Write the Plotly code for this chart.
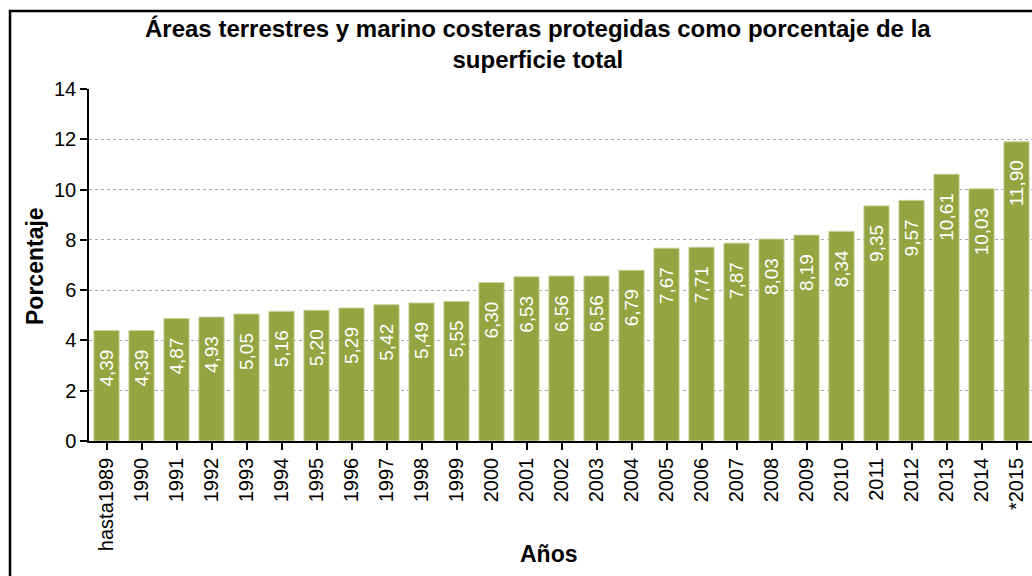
import plotly.graph_objects as go

categories = ["hasta1989", "1990", "1991", "1992", "1993", "1994", "1995", "1996", "1997",
              "1998", "1999", "2000", "2001", "2002", "2003", "2004", "2005", "2006", "2007",
              "2008", "2009", "2010", "2011", "2012", "2013", "2014", "*2015"]
values = [4.39, 4.39, 4.87, 4.93, 5.05, 5.16, 5.20, 5.29, 5.42, 5.49, 5.55, 6.30, 6.53,
          6.56, 6.56, 6.79, 7.67, 7.71, 7.87, 8.03, 8.19, 8.34, 9.35, 9.57, 10.61, 10.03, 11.90]
labels = [f"{v:.2f}".replace(".", ",") for v in values]
y_ticks = [0, 2, 4, 6, 8, 10, 12, 14]

FONT = "Liberation Sans, Arial, sans-serif"
W, H = 1032, 576
L, R, T, B = 89, 0, 89, 135
pw = W - L - R
ph = H - T - B
cat_w = 35.0


def px_x(p):
    return (p - L) / pw


def px_y(p):
    return (H - B - p) / ph


fig = go.Figure(go.Bar(
    x=list(range(len(categories))), y=values,
    marker=dict(color="#93A440", line=dict(color="#C8D39A", width=1)),
    width=0.72, cliponaxis=True, hoverinfo="x+y",
))

annotations = []
for i, (v, lab) in enumerate(zip(values, labels)):
    annotations.append(dict(
        x=i, y=v, xref="x", yref="y", text=lab, showarrow=False,
        textangle=-90, xanchor="center", yanchor="top", yshift=-18,
        font=dict(family=FONT, size=19, color="white"), borderpad=0,
    ))

# chart title
annotations.append(dict(
    x=px_x(538), y=px_y(14), xref="paper", yref="paper", xanchor="center", yanchor="top",
    text="<b>Áreas terrestres y marino costeras protegidas como porcentaje de la<br>superficie total</b>",
    showarrow=False, align="center", borderpad=0,
    font=dict(family=FONT, size=24, color="black"),
))
# y-axis title
annotations.append(dict(
    x=px_x(35), y=px_y(266), xref="paper", yref="paper", xanchor="center", yanchor="middle",
    text="<b>Porcentaje</b>", textangle=-90, showarrow=False, borderpad=0,
    font=dict(family=FONT, size=23, color="black"),
))
# x-axis title
annotations.append(dict(
    x=px_x(549), y=px_y(554), xref="paper", yref="paper", xanchor="center", yanchor="middle",
    text="<b>Años</b>", showarrow=False, borderpad=0,
    font=dict(family=FONT, size=23, color="black"),
))

fig.update_layout(
    width=W, height=H,
    margin=dict(l=L, r=R, t=T, b=B, pad=0),
    paper_bgcolor="white", plot_bgcolor="white",
    font=dict(family=FONT, color="black"),
    showlegend=False,
    annotations=annotations,
    xaxis=dict(
        range=[-0.5, -0.5 + pw / cat_w],
        tickmode="array", tickvals=list(range(len(categories))), ticktext=categories,
        tickangle=-90, tickfont=dict(size=20, family=FONT),
        ticks="outside", ticklen=7, tickwidth=1.5, tickcolor="black", tickson="boundaries",
        showline=True, linecolor="black", linewidth=1.5,
        showgrid=False, zeroline=False, automargin=False,
    ),
    yaxis=dict(
        range=[0, 14], tickvals=y_ticks,
        tickfont=dict(size=20, family=FONT),
        ticks="outside", ticklen=7, tickwidth=1.5, tickcolor="black",
        showline=True, linecolor="black", linewidth=1.5,
        showgrid=True, gridcolor="#A8A8A8", griddash="dot", gridwidth=1,
        zeroline=False, automargin=False,
    ),
)

# outer chart border (cropped on the right and bottom in the reference)
fig.add_shape(type="rect", xref="paper", yref="paper",
              x0=px_x(10), x1=1.2, y0=-1.0, y1=px_y(11),
              line=dict(color="black", width=2.5), fillcolor="rgba(0,0,0,0)", layer="above")

fig.write_html("out.html", config={"displayModeBar": False},
               post_script="document.body.style.margin='0';document.body.style.overflow='hidden';")
